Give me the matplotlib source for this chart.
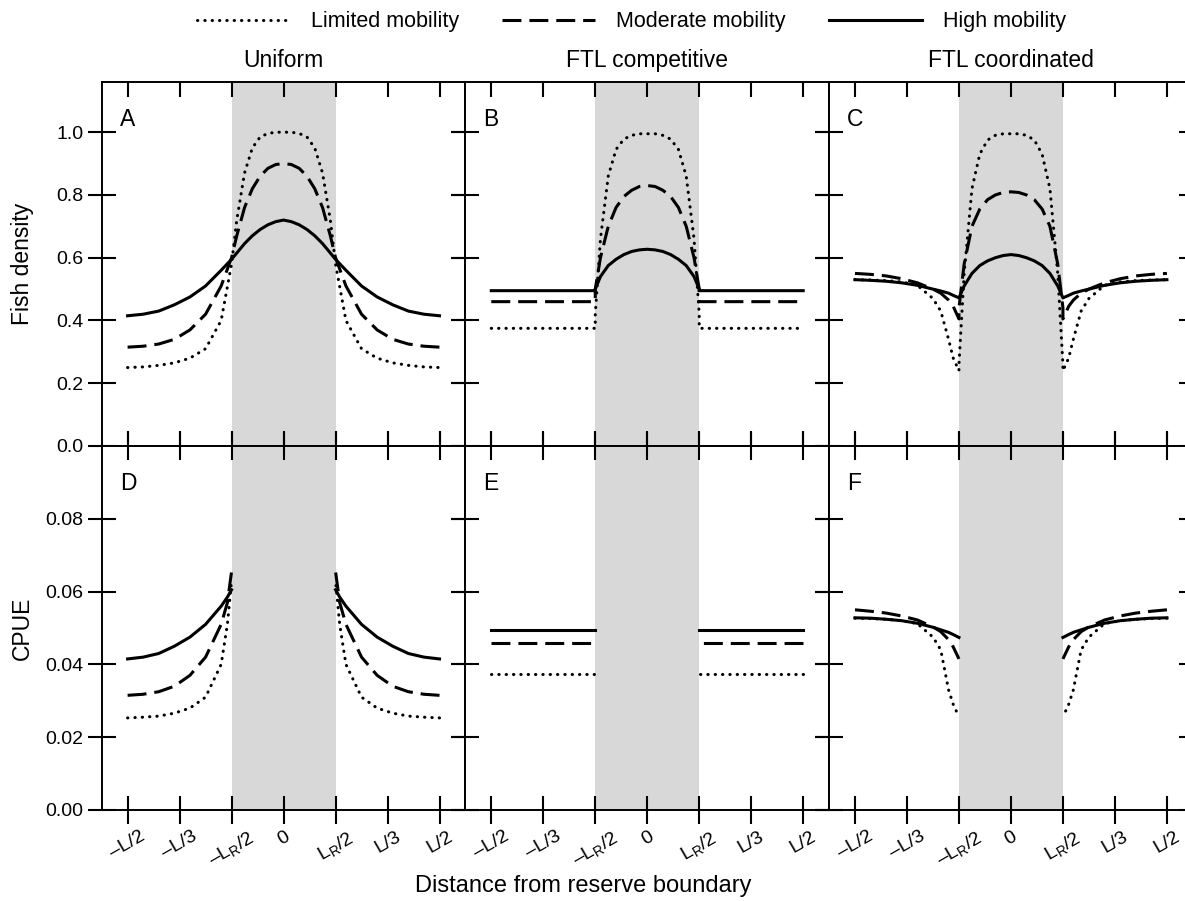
"""Fish density and CPUE profiles across a marine reserve, 2x3 panel figure."""

import matplotlib

matplotlib.use("Agg")
import matplotlib.pyplot as plt
from matplotlib.lines import Line2D

plt.rcParams["font.family"] = ["Liberation Sans", "DejaVu Sans"]
plt.rcParams["mathtext.fontset"] = "custom"
plt.rcParams["mathtext.rm"] = "Liberation Sans"
plt.rcParams["mathtext.it"] = "Liberation Sans:italic"

# ---- data (left half of each profile; the right half mirrors it) ----
RESERVE = (-1 / 6, 1 / 6)
X_TICKS = [-1 / 2, -1 / 3, -1 / 6, 0, 1 / 6, 1 / 3, 1 / 2]
X_TICK_LABELS = ["\u2013L/2", "\u2013L/3", "\u2013L$_\\mathrm{R}$/2", "0",
                 "L$_\\mathrm{R}$/2", "L/3", "L/2"]
DENSITY_TICKS = [0.0, 0.2, 0.4, 0.6, 0.8, 1.0]
CPUE_TICKS = [0.00, 0.02, 0.04, 0.06, 0.08]

COLUMN_TITLES = ["Uniform", "FTL competitive", "FTL coordinated"]
PANEL_LETTERS = ["A", "B", "C", "D", "E", "F"]
SERIES_NAMES = ["Limited mobility", "Moderate mobility", "High mobility"]

# Panel A - uniform, fish density
A_X = [-0.5, -0.45, -0.4, -0.35, -0.3, -0.25, -0.2, -1 / 6, -0.15, -0.125, -0.1, -0.075, -0.05, -0.025, 0.0]
A_LIMITED = [0.25, 0.252, 0.257, 0.265, 0.28, 0.31, 0.40, 0.58, 0.72, 0.87, 0.95, 0.985, 0.996, 1.0, 1.0]
A_MODERATE = [0.315, 0.318, 0.325, 0.34, 0.37, 0.42, 0.51, 0.60, 0.67, 0.76, 0.82, 0.86, 0.885, 0.897, 0.90]
A_HIGH = [0.415, 0.42, 0.43, 0.45, 0.475, 0.51, 0.56, 0.595, 0.615, 0.645, 0.67, 0.69, 0.705, 0.715, 0.72]

# Panel B - FTL competitive, fish density
B_X = [-0.5, -1 / 6, -1 / 6, -0.15, -0.125, -0.1, -0.075, -0.05, -0.025, 0.0]
B_LIMITED = [0.375, 0.375, 0.42, 0.66, 0.86, 0.945, 0.978, 0.99, 0.995, 0.995]
B_MODERATE = [0.46, 0.46, 0.50, 0.60, 0.70, 0.76, 0.795, 0.815, 0.827, 0.83]
B_HIGH = [0.495, 0.495, 0.50, 0.54, 0.575, 0.595, 0.61, 0.62, 0.625, 0.627]

# Panel C - FTL coordinated, fish density
C_X = [-0.5, -0.45, -0.4, -0.35, -0.3, -0.25, -0.225, -0.2, -0.185, -1 / 6,
       -1 / 6, -0.15, -0.125, -0.1, -0.075, -0.05, -0.025, 0.0]
C_LIMITED = [0.530, 0.529, 0.527, 0.523, 0.512, 0.47, 0.43, 0.34, 0.28, 0.24,
             0.26, 0.55, 0.82, 0.93, 0.975, 0.99, 0.995, 0.995]
C_MODERATE = [0.550, 0.547, 0.542, 0.533, 0.52, 0.50, 0.487, 0.465, 0.445, 0.405,
              0.44, 0.58, 0.70, 0.755, 0.785, 0.80, 0.808, 0.81]
C_HIGH = [0.530, 0.528, 0.525, 0.520, 0.512, 0.50, 0.494, 0.487, 0.48, 0.472,
          0.472, 0.51, 0.55, 0.575, 0.59, 0.60, 0.607, 0.61]

# Panel D - uniform, CPUE (fished area only)
D_X = [-0.5, -0.45, -0.4, -0.35, -0.3, -0.25, -0.2, -0.18, -1 / 6]
D_LIMITED = [0.0253, 0.0255, 0.0258, 0.0266, 0.028, 0.031, 0.040, 0.051, 0.063]
D_MODERATE = [0.0315, 0.0318, 0.0325, 0.034, 0.037, 0.042, 0.051, 0.057, 0.0655]
D_HIGH = [0.0415, 0.042, 0.043, 0.045, 0.0475, 0.051, 0.056, 0.0585, 0.0605]

# Panel E - FTL competitive, CPUE
E_X = [-0.5, -1 / 6]
E_LIMITED = [0.0375, 0.0375]
E_MODERATE = [0.046, 0.046]
E_HIGH = [0.0495, 0.0495]

# Panel F - FTL coordinated, CPUE
F_X = [-0.5, -0.45, -0.4, -0.35, -0.3, -0.25, -0.225, -0.2, -0.185, -1 / 6]
F_LIMITED = [0.0527, 0.0526, 0.0524, 0.0520, 0.0512, 0.0475, 0.044, 0.033, 0.029, 0.0256]
F_MODERATE = [0.0550, 0.0546, 0.0541, 0.0533, 0.0522, 0.0503, 0.049, 0.0468, 0.0448, 0.0415]
F_HIGH = [0.0528, 0.0527, 0.0524, 0.0520, 0.0513, 0.0502, 0.0495, 0.0488, 0.0482, 0.0474]

# ---- styling ----
INK = "#000000"
RESERVE_FILL = "#d8d8d8"
LW = 2.2
STYLES = [
    dict(linestyle=(0, (0.1, 2.3)), dash_capstyle="round"),
    dict(linestyle=(0, (6.2, 2.6)), dash_capstyle="butt"),
    dict(linestyle="-"),
]

FIG_W, FIG_H, DPI = 11.85, 9.01, 100
AX_LEFT = 101.7 / 1185
AX_W = 363.7 / 1185
AX_H = 364 / 901
ROW_BOTTOMS = [1 - 446 / 901, 1 - 810 / 901]


def mirror_full(xs, ys):
    """Whole profile symmetric about the reserve centre (x ends at 0)."""
    return xs + [-x for x in reversed(xs[:-1])], ys + list(reversed(ys[:-1]))


def mirror_side(xs, ys):
    """Right-hand fished segment mirroring the left one."""
    return [-x for x in xs], list(ys)


panels = [
    (A_X, [A_LIMITED, A_MODERATE, A_HIGH], True),
    (B_X, [B_LIMITED, B_MODERATE, B_HIGH], True),
    (C_X, [C_LIMITED, C_MODERATE, C_HIGH], True),
    (D_X, [D_LIMITED, D_MODERATE, D_HIGH], False),
    (E_X, [E_LIMITED, E_MODERATE, E_HIGH], False),
    (F_X, [F_LIMITED, F_MODERATE, F_HIGH], False),
]

fig = plt.figure(figsize=(FIG_W, FIG_H), dpi=DPI)
fig.patch.set_facecolor("white")

for i, (xs, series, whole) in enumerate(panels):
    row, col = divmod(i, 3)
    ax = fig.add_axes([AX_LEFT + col * AX_W, ROW_BOTTOMS[row], AX_W, AX_H])
    ax.axvspan(*RESERVE, color=RESERVE_FILL, linewidth=0, zorder=0)

    for ys, style in zip(series, STYLES):
        if whole:
            fx, fy = mirror_full(xs, ys)
            ax.plot(fx, fy, color=INK, linewidth=LW, **style)
        else:
            ax.plot(xs, ys, color=INK, linewidth=LW, **style)
            rx, ry = mirror_side(xs, ys)
            ax.plot(rx, ry, color=INK, linewidth=LW, **style)

    ax.set_xlim(-0.583, 0.583)
    ax.set_xticks(X_TICKS)
    if row == 0:
        ax.set_ylim(0, 1.16)
        ax.set_yticks(DENSITY_TICKS)
        ax.set_yticklabels([f"{v:.1f}" for v in DENSITY_TICKS])
        ax.tick_params(axis="x", direction="in", length=11, labelbottom=False)
        ax.set_title(COLUMN_TITLES[col], fontsize=16.5, pad=11)
    else:
        ax.set_ylim(0, 0.1)
        ax.set_yticks(CPUE_TICKS)
        ax.set_yticklabels([f"{v:.2f}" for v in CPUE_TICKS])
        ax.tick_params(axis="x", direction="inout", length=20, pad=3)
        ax.set_xticklabels(X_TICK_LABELS, rotation=30, ha="center")

    ax.tick_params(axis="both", top=True, right=True, width=1.5, labelsize=14, color=INK)
    ax.tick_params(axis="y", direction="inout", length=20, pad=3)
    if col > 0:
        ax.tick_params(axis="y", labelleft=False)
    for spine in ax.spines.values():
        spine.set_linewidth(1.4)

    ax.text(0.05, 0.898, PANEL_LETTERS[i], transform=ax.transAxes,
            fontsize=16.5, ha="left", va="center")

fig.text(22 / 1185, 1 - 264 / 901, "Fish density", rotation=90,
         ha="center", va="center", fontsize=16.5)
fig.text(22 / 1185, 1 - 628 / 901, "CPUE", rotation=90,
         ha="center", va="center", fontsize=16.5)
fig.text(0.492, 1 - 886 / 901, "Distance from reserve boundary",
         ha="center", va="center", fontsize=17)

handles = [Line2D([], [], color=INK, linewidth=LW, **style) for style in STYLES]
fig.legend(handles, SERIES_NAMES, loc="center", bbox_to_anchor=(0.533, 1 - 22 / 901),
           ncol=3, frameon=False, fontsize=15.5, handlelength=4.3,
           handletextpad=1.0, columnspacing=2.0)

fig.savefig("out.png", dpi=DPI, facecolor="white")
plt.close(fig)
